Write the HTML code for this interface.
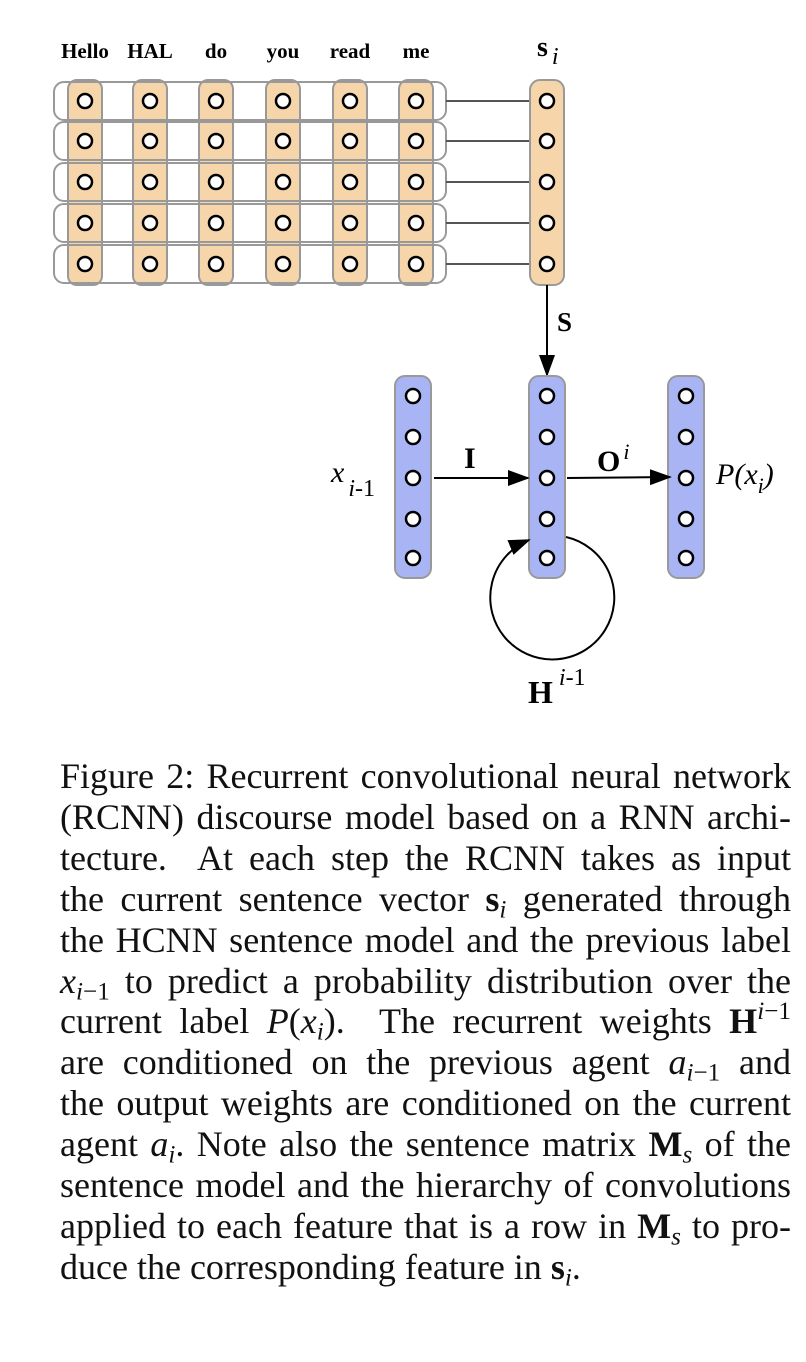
<!DOCTYPE html>
<html><head><meta charset="utf-8"><style>
body{margin:0;background:#fff;width:806px;height:1362px;overflow:hidden;position:relative;font-family:"Liberation Serif",serif}
svg{position:absolute;left:0;top:0}
#cap{position:absolute;left:60px;top:756px;width:731px;font-size:36px;color:#111;line-height:40.9px}
#cap div{text-align:justify;text-align-last:justify;white-space:nowrap}
#cap div.last{text-align-last:left}
sub{font-size:0.7em;vertical-align:-0.25em;line-height:0}
sup{font-size:0.7em;vertical-align:0.55em;line-height:0}
</style></head><body>
<svg width="806" height="740" font-family="Liberation Serif, serif">
<defs>
<marker id="ah2" markerWidth="22" markerHeight="16" refX="20" refY="8" orient="auto" markerUnits="userSpaceOnUse"><path d="M0,0 L22,8 L0,16 z" fill="#000"/></marker></defs>
<g id="topg"></g>
<g id="midg"></g>
</svg>
<div id="cap">
<div>Figure 2: Recurrent convolutional neural network</div>
<div>(RCNN) discourse model based on a RNN archi-</div>
<div>tecture.&nbsp; At each step the RCNN takes as input</div>
<div>the current sentence vector <b>s</b><sub><i>i</i></sub> generated through</div>
<div>the HCNN sentence model and the previous label</div>
<div><i>x</i><sub><i>i</i>−1</sub> to predict a probability distribution over the</div>
<div>current label <i>P</i>(<i>x<sub>i</sub></i>).&nbsp; The recurrent weights <b>H</b><sup><i>i</i>−1</sup></div>
<div>are conditioned on the previous agent <i>a</i><sub><i>i</i>−1</sub> and</div>
<div>the output weights are conditioned on the current</div>
<div>agent <i>a<sub>i</sub></i>. Note also the sentence matrix <b>M</b><sub><i>s</i></sub> of the</div>
<div>sentence model and the hierarchy of convolutions</div>
<div>applied to each feature that is a row in <b>M</b><sub><i>s</i></sub> to pro-</div>
<div class="last">duce the corresponding feature in <b>s</b><sub><i>i</i></sub>.</div>
</div>
<script>
const words=["Hello","HAL","do","you","read","me"];
const colX=[85,150,216,283,350,416];
const rowY=[101,141,182,223,264];
const midX=[413,547,686];
const midY=[396,437,478,519,558];
const NS="http://www.w3.org/2000/svg";
function el(p,t,a){const e=document.createElementNS(NS,t);for(const k in a)e.setAttribute(k,a[k]);p.appendChild(e);return e;}
const topG=document.getElementById('topg'),midG=document.getElementById('midg');
colX.forEach((x,i)=>{
 const r=el(topG,'rect',{x:x-17,y:80,width:34,height:205,rx:9,fill:'#f7d5ab',stroke:'#999','stroke-width':2});
 
 
 const t=el(topG,'text',{x:x,y:58,'text-anchor':'middle','font-weight':'bold','font-size':21});
 t.textContent=words[i];
 
 
});
rowY.forEach(y=>{
 const r=el(topG,'rect',{x:54,y:y-19,width:392,height:38,rx:10,fill:'none',stroke:'#999','stroke-width':2});
 
 
 const l=el(topG,'line',{x1:446,y1:y,x2:530,y2:y,stroke:'#555','stroke-width':2});
 
 
});
colX.forEach(x=>rowY.forEach(y=>{
 const c=el(topG,'circle',{cx:x,cy:y,r:7,fill:'#fff',stroke:'#000','stroke-width':2.5});
 
 
}));
const sv=el(topG,'rect',{x:530,y:80,width:34,height:205,rx:10,fill:'#f7d5ab',stroke:'#999','stroke-width':2});


rowY.forEach(y=>{const c=el(topG,'circle',{cx:547,cy:y,r:7,fill:'#fff',stroke:'#000','stroke-width':2.5});
 
 });
const st=el(topG,'text',{x:537,y:56,'font-weight':'bold','font-size':28});
st.innerHTML='s<tspan font-style="italic" font-weight="normal" font-size="24" dy="8" dx="4">i</tspan>';


const sa=el(topG,'line',{x1:547,y1:285,x2:547,y2:375,stroke:'#000','stroke-width':2,'marker-end':'url(#ah2)'});


const sl=el(topG,'text',{x:557,y:331,'font-weight':'bold','font-size':27});sl.textContent='S';


const midNames=['input-vector','hidden-vector','output-vector'];
midX.forEach((x,i)=>{
 const r=el(midG,'rect',{x:x-18,y:376,width:36,height:202,rx:10,fill:'#a9b4f5',stroke:'#999','stroke-width':2});
 
 
 midY.forEach(y=>{const c=el(midG,'circle',{cx:x,cy:y,r:7,fill:'#fff',stroke:'#000','stroke-width':2.5});
  
  });
});
const a1=el(midG,'line',{x1:434,y1:478,x2:528,y2:478,stroke:'#000','stroke-width':2,'marker-end':'url(#ah2)'});


const a2=el(midG,'line',{x1:567,y1:478,x2:670,y2:477,stroke:'#000','stroke-width':2,'marker-end':'url(#ah2)'});


const loop=el(midG,'path',{d:'M566,537 A62,62 0 1 1 529,540',fill:'none',stroke:'#000','stroke-width':2,'marker-end':'url(#ah2)'});


function txt(x,y,html,name){const t=el(midG,'text',{x:x,y:y,'font-size':28});t.innerHTML=html;
 
 }
txt(331,482,'<tspan font-style="italic" font-size="30">x</tspan><tspan font-size="24" dy="14" dx="4"><tspan font-style="italic">i</tspan>-1</tspan>','x-label');
txt(464,468,'<tspan font-weight="bold" font-size="30">I</tspan>','i-label');
txt(597,471,'<tspan font-weight="bold" font-size="30">O</tspan><tspan font-style="italic" font-size="22" dy="-12" dx="3">i</tspan>','o-label');
txt(716,484,'<tspan font-style="italic" font-size="30">P(x</tspan><tspan font-style="italic" font-size="22" dy="9">i</tspan><tspan font-style="italic" font-size="30" dy="-9">)</tspan>','p-label');
txt(528,703,'<tspan font-weight="bold" font-size="32">H</tspan><tspan font-size="24" dy="-18" dx="6"><tspan font-style="italic">i</tspan>-1</tspan>','h-label');
</script>
</body></html>
